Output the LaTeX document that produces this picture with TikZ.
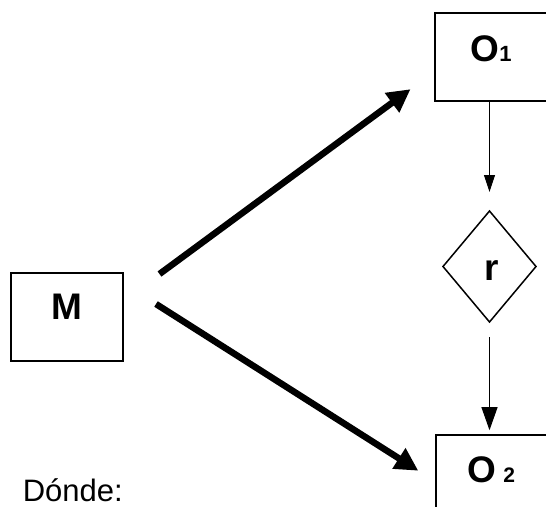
\documentclass[tikz,border=0pt]{standalone}
\usepackage{fontspec}
\setmainfont{Liberation Sans}
\usetikzlibrary{arrows.meta,shapes.geometric,calc}
\begin{document}
\begin{tikzpicture}[x=1pt,y=-1pt,
 box/.style={draw,line width=2pt,rectangle,inner sep=0pt,outer sep=0pt},
 dia/.style={draw,line width=1.5pt,diamond,inner sep=0pt,outer sep=0pt},
 lbl/.style={font=\fontsize{37}{37}\selectfont\bfseries,inner sep=0pt},
 bigarrow/.style={line width=6.5pt,-{Triangle[length=23pt,width=23pt]}},
 thinarrow/.style={line width=1pt},
]
\useasboundingbox (0,0) rectangle (546,506);
\clip (0,0) rectangle (546,506);
% boxes
\node[box,minimum width=112pt,minimum height=87.5pt] (M) at (67.2,316.75) {};
\node[box,minimum width=125pt,minimum height=88pt] (O1) at (497.5,57) {};
\node[box,minimum width=124pt,minimum height=85.5pt] (O2) at (498,477.25) {};
\node[dia,minimum width=93pt,minimum height=111pt] (R) at (489.5,266.5) {};
% labels
\node[lbl,anchor=base] (tM) at (67,319.3) {M};
\node[lbl,anchor=base west] (tO1) at (470.4,61.7) {O{\fontsize{22}{22}\selectfont 1}};
\node[lbl,anchor=base west] (tO2) at (467.4,482) {O\hspace{7pt}{\fontsize{21}{21}\selectfont 2}};
\node[lbl,anchor=base] (tR) at (491.5,280.7) {r};
\node[anchor=base west,inner sep=0pt,font=\fontsize{31}{31}\selectfont] (tD) at (22.6,501) {Dónde:};
% thick arrows
\coordinate (s1) at (159.5,274);
\coordinate (e1) at (410.5,89.2);
\coordinate (s2) at (156,304);
\coordinate (e2) at (418.3,470.7);
\draw[bigarrow] (s1) -- (e1);
\draw[bigarrow] (s2) -- (e2);
% thin arrows
\draw[thinarrow,-{Triangle[length=17pt,width=11pt]},shorten >=19pt] (O1.south -| R.north) -- (R.north);
\draw[thinarrow,-{Triangle[length=23pt,width=16pt]},shorten <=15pt,shorten >=4.3pt] (R.south) -- (O2.north -| R.south);
\end{tikzpicture}
\end{document}
